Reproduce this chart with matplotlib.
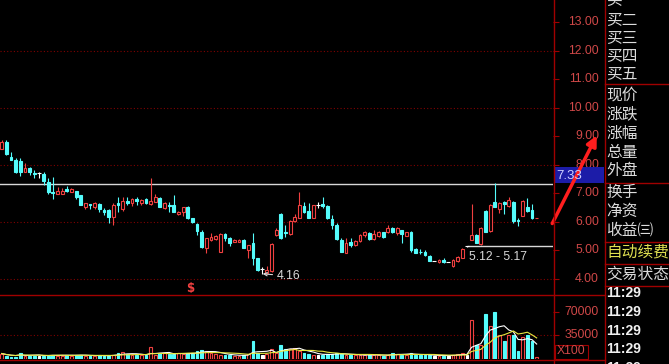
import numpy as np
import pandas as pd
import matplotlib.pyplot as plt
from matplotlib.patches import Rectangle, FancyArrowPatch
from matplotlib.lines import Line2D
from matplotlib.transforms import blended_transform_factory

W, H = 669, 364

# daily candles (open, high, low, close)
opens = [8.55, 8.81, 8.28, 8.17, 8.13, 7.74, 7.88, 7.70, 7.70, 7.67,
         7.41, 7.06, 6.97, 6.98, 7.15, 7.06, 7.08, 6.94, 6.53, 6.63,
         6.53, 6.61, 6.42, 6.42, 6.18, 6.65, 6.45, 6.73, 6.65, 6.80,
         6.67, 6.79, 6.61, 6.71, 6.85, 6.50, 6.59, 6.59, 6.26, 6.33,
         6.53, 6.12, 5.91, 5.66, 5.07, 5.37, 5.40, 4.96, 5.56, 5.45,
         5.31, 5.31, 5.37, 5.02, 5.25, 4.72, 4.35, 4.22, 4.28, 5.54,
         6.26, 5.64, 5.56, 6.03, 6.15, 6.56, 6.38, 6.12, 6.59, 6.63,
         6.56, 6.10, 5.89, 5.37, 4.90, 5.28, 5.19, 5.33, 5.54, 5.60,
         5.40, 5.52, 5.64, 5.64, 5.80, 5.60, 5.72, 5.52, 5.64, 5.04,
         4.96, 4.93, 4.82, 4.63, 4.58, 4.67, 4.58, 4.47, 4.63, 4.75,
         5.14, 5.37, 5.54, 5.21, 6.38, 5.68, 6.71, 6.45, 6.69, 6.57,
         6.71, 6.07, 6.22, 6.53, 6.42, 6.12]
highs = [8.87, 8.87, 8.44, 8.23, 8.23, 8.05, 7.93, 7.82, 7.74, 7.74,
         7.53, 7.58, 7.23, 7.20, 7.27, 7.18, 7.08, 6.94, 6.67, 6.63,
         6.71, 6.65, 6.50, 6.45, 6.65, 6.88, 6.88, 6.88, 6.82, 6.88,
         6.79, 6.82, 7.55, 6.96, 6.88, 6.71, 6.71, 6.94, 6.38, 6.53,
         6.57, 6.12, 5.95, 5.72, 5.42, 5.60, 5.54, 5.60, 5.60, 5.48,
         5.40, 5.40, 5.40, 5.19, 5.60, 4.75, 4.42, 4.45, 5.25, 5.77,
         6.30, 5.89, 6.07, 6.26, 7.03, 6.71, 6.65, 6.59, 6.71, 6.88,
         6.59, 6.24, 5.95, 5.45, 5.42, 5.42, 5.37, 5.56, 5.68, 5.64,
         5.72, 5.68, 5.66, 5.89, 5.83, 5.83, 5.72, 5.66, 5.68, 5.07,
         5.05, 5.02, 4.84, 4.63, 4.70, 4.72, 4.60, 4.70, 4.82, 5.07,
         5.17, 6.61, 5.56, 5.83, 6.42, 6.61, 7.35, 6.71, 6.73, 6.88,
         6.73, 6.15, 6.77, 6.82, 6.61, 6.15]
lows = [8.55, 8.34, 8.17, 7.72, 7.62, 7.74, 7.64, 7.55, 7.55, 7.29,
        6.97, 6.80, 6.97, 6.98, 7.04, 7.04, 6.80, 6.59, 6.45, 6.45,
        6.45, 6.36, 6.24, 5.95, 5.89, 6.36, 6.38, 6.59, 6.57, 6.59,
        6.59, 6.63, 6.59, 6.71, 6.53, 6.45, 6.36, 6.33, 6.24, 6.22,
        6.10, 5.95, 5.54, 5.10, 4.90, 5.33, 5.37, 4.96, 5.33, 5.17,
        5.28, 5.28, 5.10, 4.72, 4.49, 4.28, 4.16, 4.20, 4.26, 5.52,
        5.40, 5.48, 5.54, 5.98, 6.12, 6.30, 6.15, 6.12, 6.50, 6.50,
        6.10, 5.75, 5.37, 4.93, 4.90, 5.13, 5.17, 5.28, 5.48, 5.37,
        5.37, 5.48, 5.45, 5.60, 5.60, 5.54, 5.25, 5.52, 4.96, 4.90,
        4.86, 4.82, 4.63, 4.63, 4.55, 4.57, 4.58, 4.43, 4.61, 4.72,
        5.12, 5.37, 5.25, 5.19, 5.64, 5.66, 6.53, 6.30, 6.26, 6.53,
        5.95, 5.86, 6.22, 6.36, 6.10, 6.12]
closes = [8.81, 8.37, 8.17, 7.76, 7.76, 7.88, 7.74, 7.67, 7.70, 7.43,
          7.06, 7.02, 7.08, 7.09, 7.09, 7.14, 6.88, 6.59, 6.65, 6.59,
          6.65, 6.45, 6.33, 6.18, 6.59, 6.59, 6.73, 6.67, 6.79, 6.73,
          6.77, 6.65, 6.73, 6.88, 6.53, 6.65, 6.56, 6.36, 6.36, 6.51,
          6.12, 5.98, 5.68, 5.13, 5.42, 5.48, 5.52, 5.58, 5.42, 5.25,
          5.37, 5.37, 5.10, 5.19, 4.75, 4.32, 4.35, 4.30, 5.21, 5.72,
          5.42, 5.60, 6.03, 6.18, 6.59, 6.33, 6.15, 6.59, 6.59, 6.57,
          6.12, 5.89, 5.40, 4.96, 5.25, 5.19, 5.33, 5.54, 5.66, 5.40,
          5.56, 5.66, 5.48, 5.77, 5.66, 5.80, 5.56, 5.64, 5.02, 4.90,
          4.94, 4.84, 4.63, 4.63, 4.67, 4.58, 4.58, 4.67, 4.78, 5.05,
          5.14, 5.54, 5.25, 5.80, 5.66, 6.59, 6.53, 6.65, 6.64, 6.77,
          6.03, 6.03, 6.73, 6.38, 6.12, 6.15]
volumes = [7600, 4500, 3000, 3000, 9000, 4500, 4500, 4500, 4500, 4500,
           4500, 6000, 4500, 4500, 5500, 4500, 5500, 5500, 4500, 3500,
           3500, 5500, 4500, 4500, 5500, 8000, 10000, 7000, 6000, 5000,
           5000, 5000, 17000, 6000, 8000, 8000, 7000, 7000, 8000, 7000,
           8000, 8000, 12000, 13000, 11000, 9000, 7000, 6000, 5000, 5000,
           4500, 4500, 5000, 7000, 26000, 9000, 6000, 7000, 15000, 8000,
           21000, 15000, 14000, 16000, 12000, 8000, 7000, 6000, 5000, 6000,
           7000, 7000, 9000, 7000, 5000, 5000, 5000, 6000, 5000, 6000,
           5000, 5000, 4500, 5000, 9000, 7000, 6000, 6000, 8000, 6000,
           5000, 5000, 5000, 4000, 4500, 4500, 4000, 6000, 7000, 8000,
           6000, 58000, 21000, 20000, 67000, 50000, 70000, 35000, 27000, 35000,
           36000, 12000, 32000, 36000, 27000, 3000]

price_ticks = [13, 12, 11, 10, 9, 8, 7, 6, 5, 4]
grid_prices = [12, 10, 8, 6, 4]
vol_ticks = [70000, 35000]
line_price = 7.33
low_price = 4.16
low_day = 56
range_day = 100
range_price = 5.15
range_text = '5.12 - 5.17'
side_labels = ['买一', '买二', '买三', '买四', '买五', '现价', '涨跌', '涨幅', '总量', '外盘',
               '换手', '净资', '收益㈢', '自动续费', '交易状态']
side_rows = [1, 20, 39, 57, 74, 95, 114, 133, 152, 171, 192, 211, 230, 252, 274]
time_labels = ['11:29'] * 5
time_rows = [293, 312, 331, 349, 368]

RED = '#f04040'
CYAN = '#54fcfc'
AXRED = '#a00000'
LBLRED = '#d04848'
GRIDRED = '#800000'

n = len(opens)
df = pd.DataFrame({'o': opens, 'h': highs, 'l': lows, 'c': closes, 'v': volumes})
ma5 = df['v'].rolling(5, min_periods=1).mean()
ma10 = df['v'].rolling(10, min_periods=1).mean()


def fx(x):
    return x / W


def fy(y):
    return 1 - y / H


fig = plt.figure(figsize=(W / 100, H / 100), dpi=100, facecolor='black')
ax = fig.add_axes([0, fy(294), fx(553), 294 / H], facecolor='black')
vax = fig.add_axes([0, fy(359), fx(553), (359 - 295) / H], facecolor='black')

step = 4.652
x0 = 1.7
for a in (ax, vax):
    a.set_xlim(-x0 / step, (553 - x0) / step)
    for s in a.spines.values():
        s.set_visible(False)
    a.set_xticks([])
    a.tick_params(axis='y', which='both', right=True, left=False, labelleft=False,
                  labelright=False, direction='out', length=4, color=AXRED, width=0.8)
ax.set_ylim(4 - 15 / 28.56, 4 + 279 / 28.56)
vax.set_ylim(-0.5 * 1521.7, 63.5 * 1521.7)
ax.yaxis.tick_right()
vax.yaxis.tick_right()
ax.set_yticks(price_ticks)
vax.set_yticks(vol_ticks)
ax.tick_params(labelright=False)
vax.tick_params(labelright=False)

for p in grid_prices:
    ax.axhline(p, color=GRIDRED, lw=0.8, ls=(0, (1, 2)))
vax.axhline(35000, color=GRIDRED, lw=0.8, ls=(0, (1, 2)))

bw = 0.6
for i, r in df.iterrows():
    if r.c > r.o:
        col, face = RED, 'black'
    elif r.c < r.o:
        col, face = CYAN, CYAN
    else:
        col, face = 'white', 'white'
    ax.vlines(i, r.l, r.h, color=col, lw=0.8, zorder=2)
    if r.c != r.o:
        ax.add_patch(Rectangle((i - bw / 2, min(r.o, r.c)), bw, abs(r.c - r.o),
                               facecolor=face, edgecolor=col, lw=0.8, zorder=3))
    else:
        ax.hlines(r.o, i - bw / 2 - 0.1, i + bw / 2 + 0.1, color=col, lw=0.8, zorder=3)
    vax.add_patch(Rectangle((i - bw / 2, 0), bw, r.v, facecolor=face,
                            edgecolor=col, lw=0.8, zorder=2))

idx = np.arange(n)
vax.plot(idx, ma5, color='white', lw=0.8, zorder=4)
vax.plot(idx, ma10, color='#e8e840', lw=0.8, zorder=4)

# drawn lines and marks on the price panel
ax.axhline(line_price, color='#d8d8d8', lw=1.0, zorder=1)
ax.hlines(range_price, range_day, (553 - x0) / step, color='#d8d8d8', lw=1.0)
ax.text(range_day + 0.45, range_price - 0.38, range_text, color='#d8d8d8',
        fontsize=8.8, family='Liberation Sans', va='center', ha='left')
ax.annotate('4.16', xy=(low_day + 0.1, low_price + 0.02), xytext=(14, -2),
            textcoords='offset pixels', color='#d8d8d8', fontsize=8.8,
            family='Liberation Sans', va='center', ha='left',
            arrowprops=dict(arrowstyle='->', color='#d8d8d8', lw=0.8,
                            shrinkA=1, shrinkB=0, mutation_scale=6))
ax.text(40.6, 3.66, '$', color=RED, fontsize=8.5, fontweight='bold',
        ha='center', va='center', family='DejaVu Sans')


# frame lines
def pxline(xs, ys, color=AXRED, lw=1.0):
    fig.add_artist(Line2D([fx(x) for x in xs], [fy(y) for y in ys], color=color, lw=lw))


pxline([553.5, 553.5], [0, 364])
pxline([604.5, 604.5], [0, 364])
pxline([0, 604.5], [294.5, 294.5])
pxline([0, 604.5], [359.5, 359.5])
for y in [83.5, 182.5, 241.5, 263.5, 285.5]:
    pxline([604.5, 669], [y, y])

# axis labels
tr = blended_transform_factory(fig.transFigure, ax.transData)
for p in price_ticks:
    ax.text(fx(599), p, f'{p:.2f}', transform=tr, color=LBLRED, fontsize=8.8,
            family='Liberation Sans', ha='right', va='center')
vtr = blended_transform_factory(fig.transFigure, vax.transData)
for v in vol_ticks:
    vax.text(fx(599), v, f'{v}', transform=vtr, color=LBLRED, fontsize=8.8,
             family='Liberation Sans', ha='right', va='center')
fig.add_artist(Rectangle((fx(554.5), fy(358.5)), fx(33), 14 / H, transform=fig.transFigure,
                         facecolor='none', edgecolor=AXRED, lw=0.8))
fig.text(fx(557), fy(351.5), 'X100', color=LBLRED, fontsize=8.8,
         family='Liberation Sans', ha='left', va='center')

# current price tag
fig.add_artist(Rectangle((fx(554), fy(183)), fx(50), 16 / H, transform=fig.transFigure,
                         facecolor='#1c1ca8', edgecolor='none'))
fig.text(fx(556), fy(175.5), f'{line_price:.2f}', color='#d0d0ff', fontsize=9.5,
         family='Liberation Sans', ha='left', va='center')

# red arrow
fig.add_artist(FancyArrowPatch((fx(551), fy(226)), (fx(598), fy(133)),
                               transform=fig.transFigure, arrowstyle='-|>',
                               mutation_scale=15, color='#ff1e1e', lw=2.5))

# quote panel
for lab, y in zip(side_labels, side_rows):
    col = '#e0e050' if lab == '自动续费' else '#dcdcdc'
    fig.text(fx(606), fy(y), lab, color=col, fontsize=11.3,
             family=['Noto Sans CJK SC', 'DejaVu Sans'], ha='left', va='center')
for lab, y in zip(time_labels, time_rows):
    fig.text(fx(606), fy(y), lab, color='#f0f0f0', fontsize=10, fontweight='bold',
             family='Liberation Sans', ha='left', va='center')

fig.savefig('out.png', dpi=100, facecolor='black')
